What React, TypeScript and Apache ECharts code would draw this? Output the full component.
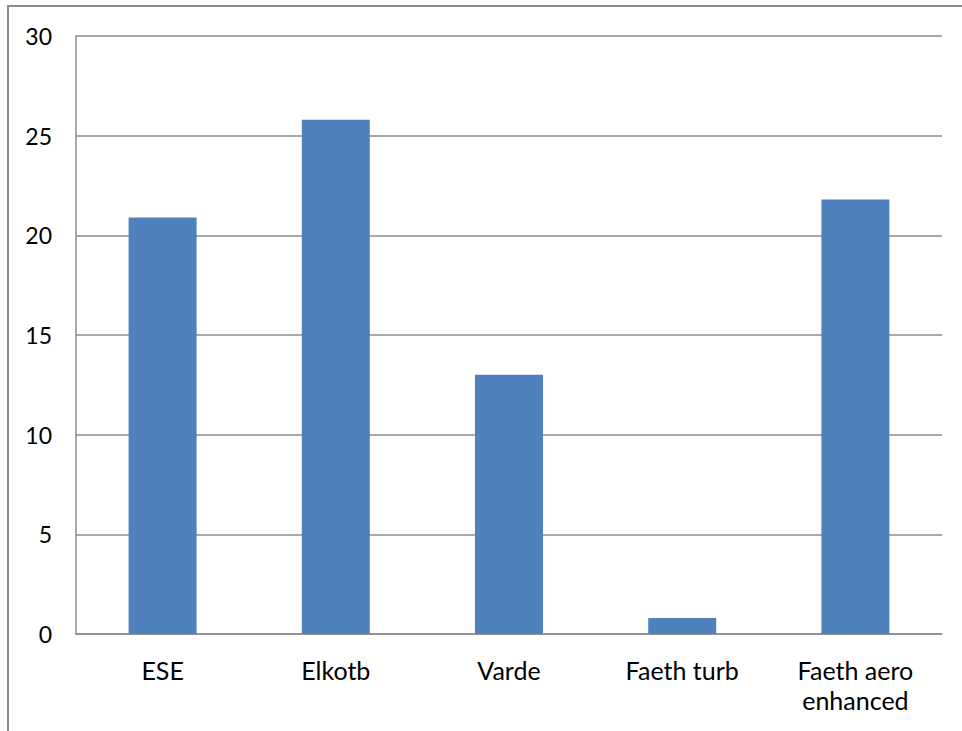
import React, { useEffect, useRef } from "react";
import * as echarts from "echarts";

const categories = ["ESE", "Elkotb", "Varde", "Faeth turb", "Faeth aero\nenhanced"];
const values = [20.9, 25.8, 13.0, 0.8, 21.8];
const yTicks = { min: 0, max: 30, interval: 5 };

const FONT = "Lato, 'Open Sans', sans-serif";
const GRID_COLOR = "#8c8c8c";

export default function App() {
  const ref = useRef<HTMLDivElement>(null);

  useEffect(() => {
    if (!ref.current) return;
    const chart = echarts.init(ref.current, undefined, { renderer: "svg" });
    chart.setOption({
      animation: false,
      backgroundColor: "#ffffff",
      grid: { left: 76, top: 36, right: 20, bottom: 97, containLabel: false },
      xAxis: {
        type: "category",
        data: categories,
        axisLine: { show: true, lineStyle: { color: GRID_COLOR, width: 1.5 } },
        axisTick: { show: false },
        axisLabel: {
          color: "#000",
          fontFamily: FONT,
          fontSize: 25,
          lineHeight: 30,
          margin: 21,
          interval: 0,
        },
      },
      yAxis: {
        type: "value",
        min: yTicks.min,
        max: yTicks.max,
        interval: yTicks.interval,
        axisLine: { show: true, lineStyle: { color: GRID_COLOR, width: 1.5 } },
        axisTick: { show: false },
        axisLabel: {
          color: "#000",
          fontFamily: FONT,
          fontSize: 23,
          margin: 24,
        },
        splitLine: { show: true, lineStyle: { color: GRID_COLOR, width: 1.5 } },
      },
      series: [
        {
          type: "bar",
          data: values,
          barWidth: 68,
          itemStyle: { color: "#4F81BD" },
        },
      ],
      graphic: [
        {
          type: "polyline",
          shape: { points: [[8, 731], [8, 6], [962, 6]] },
          style: { stroke: GRID_COLOR, lineWidth: 2, fill: "none" },
          silent: true,
        },
      ],
    });
    return () => chart.dispose();
  }, []);

  return (
    <div
      ref={ref}
      style={{ position: "absolute", left: 0, top: 0, width: 962, height: 731 }}
    />
  );
}
